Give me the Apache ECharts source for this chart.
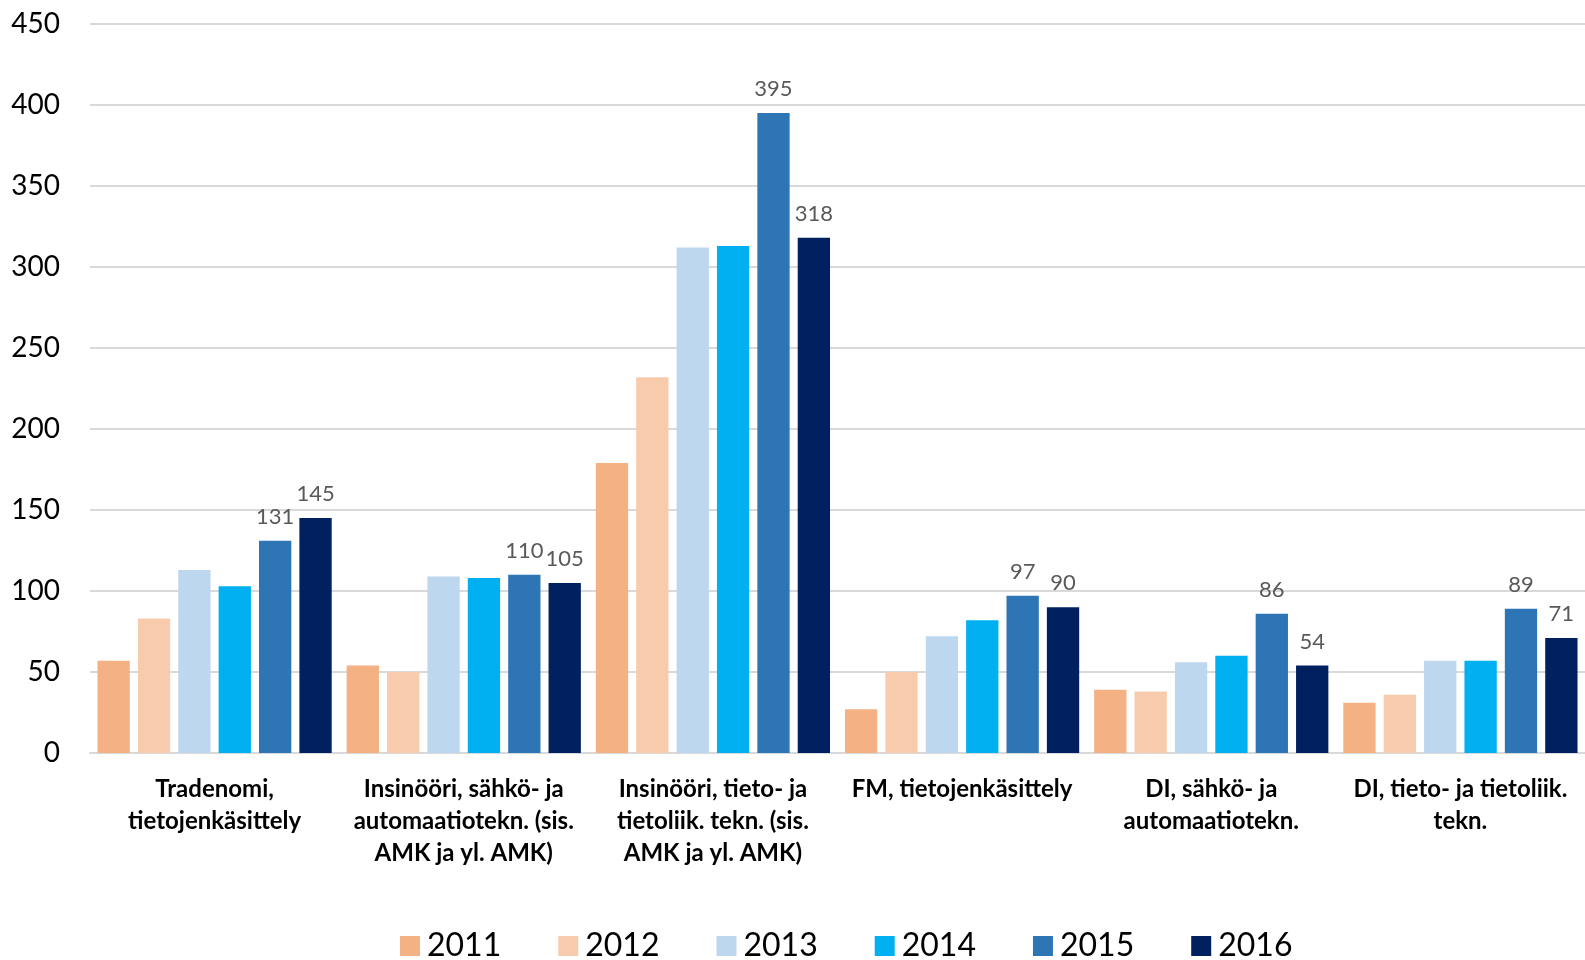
<!DOCTYPE html>
<html><head><meta charset="utf-8">
<script src="https://cdn.jsdelivr.net/npm/echarts@6/dist/echarts.min.js"></script>
<style>html,body{margin:0;padding:0;background:#fff;overflow:hidden;width:100%;height:100%}#c{width:100vw;height:100vh}</style>
</head><body><div id="c"></div>
<script>
const categories = [
  "Tradenomi,\ntietojenkäsittely",
  "Insinööri, sähkö- ja\nautomaatiotekn. (sis.\nAMK ja yl. AMK)",
  "Insinööri, tieto- ja\ntietoliik. tekn. (sis.\nAMK ja yl. AMK)",
  "FM, tietojenkäsittely",
  "DI, sähkö- ja\nautomaatiotekn.",
  "DI, tieto- ja tietoliik.\ntekn."
];
const years = ["2011","2012","2013","2014","2015","2016"];
const v2011 = [57, 54, 179, 27, 39, 31];
const v2012 = [83, 50, 232, 50, 38, 36];
const v2013 = [113, 109, 312, 72, 56, 57];
const v2014 = [103, 108, 313, 82, 60, 57];
const v2015 = [131, 110, 395, 97, 86, 89];
const v2016 = [145, 105, 318, 90, 54, 71];
const yTicks = [0, 450, 50];
const colors = ["#F4B183","#F8CBAD","#BDD7EE","#00B0F0","#2E75B6","#002060"];
const values = [v2011, v2012, v2013, v2014, v2015, v2016];
const showLabel = [false,false,false,false,true,true];
const font = "Lato, 'Open Sans', sans-serif";

const chart = echarts.init(document.getElementById('c'));
chart.setOption({
  animation: false,
  textStyle: {fontFamily: font},
  grid: {left: 90, right: 0, top: 24, bottom: 207, containLabel: false},
  legend: {
    left: 395, top: 925, itemWidth: 20, itemHeight: 20, itemGap: 57,
    icon: 'rect',
    textStyle: {fontSize: 32, color: '#000', fontFamily: font, padding: [0,0,0,2]},
    data: years
  },
  xAxis: {
    type: 'category', data: categories,
    axisLine: {lineStyle: {color: '#d9d9d9', width: 2}},
    axisTick: {show: false},
    axisLabel: {interval: 0, fontSize: 24, fontWeight: 'bold', color: '#000', lineHeight: 32, margin: 20, fontFamily: font}
  },
  yAxis: {
    type: 'value', min: yTicks[0], max: yTicks[1], interval: yTicks[2],
    axisLine: {show: false}, axisTick: {show: false},
    splitLine: {lineStyle: {color: '#d9d9d9', width: 2}},
    axisLabel: {fontSize: 28, color: '#000', margin: 30, fontFamily: font}
  },
  series: years.map((y, i) => ({
    name: y, type: 'bar', data: values[i],
    barGap: '25%', barCategoryGap: '6%',
    itemStyle: {color: colors[i]},
    label: {show: showLabel[i], position: 'top', distance: 13, fontSize: 22, color: '#595959', fontFamily: font}
  }))
});
</script></body></html>
